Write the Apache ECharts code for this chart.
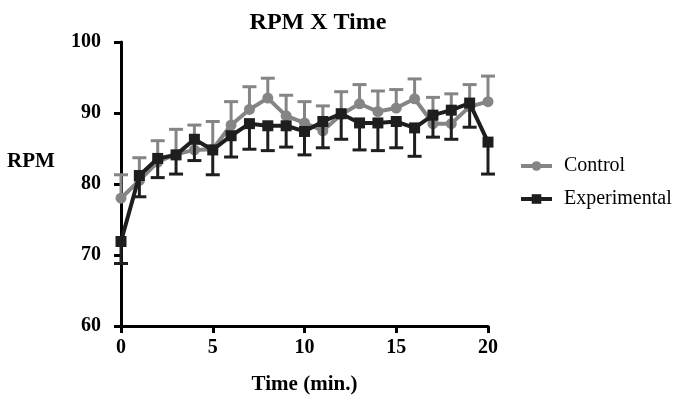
<!DOCTYPE html>
<html>
<head>
<meta charset="utf-8">
<script src="https://cdn.jsdelivr.net/npm/echarts@6/dist/echarts.min.js"></script>
<style>html,body{margin:0;padding:0;background:#fff}#c{width:677px;height:402px}</style>
</head>
<body>
<div id="c"></div>
<script>
var times = [0,1,2,3,4,5,6,7,8,9,10,11,12,13,14,15,16,17,18,19,20];
var controlMean = [78.0,80.5,83.1,84.2,84.8,84.9,88.3,90.5,92.1,89.6,88.6,87.5,89.8,91.3,90.2,90.7,92.0,88.5,88.5,90.9,91.6];
var controlErr  = [3.3,3.2,3.0,3.5,3.5,3.9,3.3,3.2,2.8,2.9,3.0,3.5,3.2,2.7,2.9,2.6,2.8,3.7,4.2,3.1,3.6];
var expMean = [71.9,81.2,83.6,84.1,86.3,84.8,86.8,88.5,88.2,88.2,87.4,88.8,89.9,88.6,88.6,88.8,87.9,89.7,90.4,91.4,85.9];
var expErr  = [3.1,3.0,2.7,2.7,3.0,3.5,3.0,3.6,3.5,3.0,3.3,3.7,3.6,3.8,3.9,3.7,4.0,3.1,4.1,3.4,4.5];
var yTicks = [60,70,80,90,100];
var xTicks = [0,5,10,15,20];

var FONT = 'Liberation Serif';
var GRAY = '#858585';
var BLACK = '#1e1e1e';

function zip(a,b,c){ return a.map(function(v,i){ return c ? [v,b[i],c[i]] : [v,b[i]]; }); }

function errRender(color, dir){
  return function(params, api){
    var x = api.value(0), v = api.value(1), e = api.value(2);
    var p0 = api.coord([x, v]);
    var p1 = api.coord([x, v + dir*e]);
    var hw = 7;
    return {type:'group', children:[
      {type:'line', shape:{x1:p0[0],y1:p0[1],x2:p1[0],y2:p1[1]}, style:{stroke:color,lineWidth:3}},
      {type:'line', shape:{x1:p1[0]-hw,y1:p1[1],x2:p1[0]+hw,y2:p1[1]}, style:{stroke:color,lineWidth:3}}
    ]};
  };
}

var chart = echarts.init(document.getElementById('c'), null, {renderer:'canvas'});
chart.setOption({
  animation:false,
  backgroundColor:'#fff',
  title:{text:'RPM X Time', left:313, top:6, textAlign:'center',
    textStyle:{fontFamily:FONT, fontWeight:'bold', fontSize:24, color:'#000'}},
  graphic:[{type:'text', left:7, top:151, style:{text:'RPM', font:'bold 21px "Liberation Serif"', fill:'#000'}}],
  legend:{orient:'vertical', left:514, top:151, itemGap:13, itemWidth:31, itemHeight:12,
    data:['Control','Experimental'],
    lineStyle:{width:4},
    textStyle:{fontFamily:FONT, fontSize:20, color:'#000', padding:[0,0,0,7]}},
  grid:{left:121, right:189, top:42, bottom:76, outerBoundsMode:'none', containLabel:false},
  xAxis:{type:'value', min:0, max:20, interval:5,
    name:'Time (min.)', nameLocation:'middle', nameGap:48,
    nameTextStyle:{fontFamily:FONT, fontWeight:'bold', fontSize:21, color:'#000'},
    axisLine:{lineStyle:{color:'#000', width:3}},
    axisTick:{length:7, lineStyle:{color:'#000', width:3}},
    axisLabel:{margin:12, fontFamily:FONT, fontWeight:'bold', fontSize:20, color:'#000'},
    splitLine:{show:false}},
  yAxis:{type:'value', min:60, max:100, interval:10,
    axisLine:{show:true, lineStyle:{color:'#000', width:3}},
    axisTick:{show:true, length:7, lineStyle:{color:'#000', width:3}},
    axisLabel:{margin:20, fontFamily:FONT, fontWeight:'bold', fontSize:20, color:'#000'},
    splitLine:{show:false}},
  series:[
    {name:'ctrlErr', type:'custom', data:zip(times, controlMean, controlErr),
      encode:{x:0,y:1}, renderItem:errRender(GRAY, 1), z:1, silent:true},
    {name:'Control', type:'line', data:zip(times, controlMean), symbol:'circle', symbolSize:11,
      lineStyle:{color:GRAY, width:4}, itemStyle:{color:GRAY}, z:2},
    {name:'expErr', type:'custom', data:zip(times, expMean, expErr),
      encode:{x:0,y:1}, renderItem:errRender(BLACK, -1), z:3, silent:true},
    {name:'Experimental', type:'line', data:zip(times, expMean), symbol:'rect', symbolSize:11,
      lineStyle:{color:BLACK, width:4}, itemStyle:{color:BLACK}, z:4}
  ]
});
</script>
</body>
</html>
